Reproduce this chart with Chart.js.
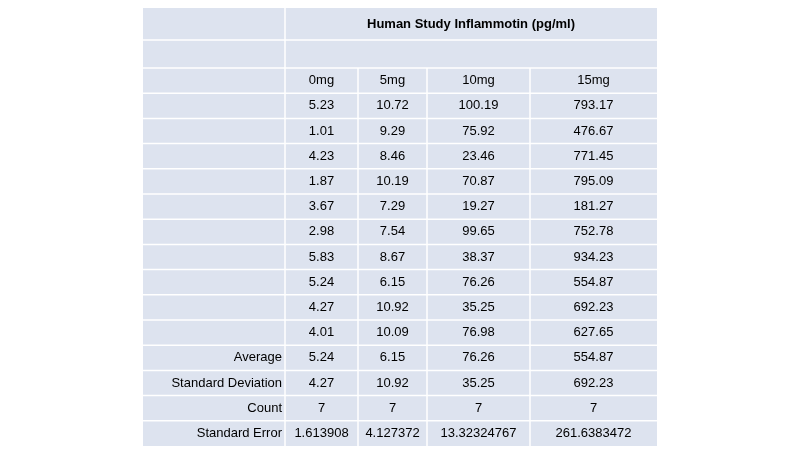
<!DOCTYPE html>
<html>
<head>
<meta charset="utf-8">
<script src="https://cdn.jsdelivr.net/npm/chart.js@4"></script>
<style>
  html, body { margin: 0; background: #fff; }
  #wrap { width: 800px; height: 450px; }
</style>
</head>
<body>
<div id="wrap"><canvas id="tableChart"></canvas></div>
<script>
const title = 'Human Study Inflammotin (pg/ml)';
const doses = ['0mg', '5mg', '10mg', '15mg'];
const dose0 = ['5.23', '1.01', '4.23', '1.87', '3.67', '2.98', '5.83', '5.24', '4.27', '4.01'];
const dose5 = ['10.72', '9.29', '8.46', '10.19', '7.29', '7.54', '8.67', '6.15', '10.92', '10.09'];
const dose10 = ['100.19', '75.92', '23.46', '70.87', '19.27', '99.65', '38.37', '76.26', '35.25', '76.98'];
const dose15 = ['793.17', '476.67', '771.45', '795.09', '181.27', '752.78', '934.23', '554.87', '692.23', '627.65'];
const statLabels = ['Average', 'Standard Deviation', 'Count', 'Standard Error'];
const stat0 = ['5.24', '4.27', '7', '1.613908'];
const stat5 = ['6.15', '10.92', '7', '4.127372'];
const stat10 = ['76.26', '35.25', '7', '13.32324767'];
const stat15 = ['554.87', '692.23', '7', '261.6383472'];

// layout of the grid (pixel-space of the page)
const colEdges = [143, 285, 358, 427, 530, 657];
const rowEdges = [8, 40, 68];
for (let i = 1; i <= 15; i++) rowEdges.push(68 + i * 25.2);

const rows = [];
rows.push({ cells: [null, title], title: true });
rows.push({ cells: [] });
rows.push({ cells: [''].concat(doses) });
dose0.forEach((v, i) => rows.push({ cells: ['', v, dose5[i], dose10[i], dose15[i]] }));
statLabels.forEach((l, i) => rows.push({ cells: [l, stat0[i], stat5[i], stat10[i], stat15[i]] }));

const tablePlugin = {
  id: 'tablePlugin',
  beforeDatasetsDraw(chart) {
    const { ctx, scales: { x, y } } = chart;
    const px = v => x.getPixelForValue(v);
    const py = v => y.getPixelForValue(v);
    ctx.save();
    ctx.fillStyle = '#dde3ef';
    ctx.fillRect(px(colEdges[0]), py(rowEdges[0]), px(colEdges[5]) - px(colEdges[0]), py(rowEdges[rowEdges.length - 1]) - py(rowEdges[0]));
    ctx.strokeStyle = '#ffffff';
    ctx.lineWidth = 1.5;
    ctx.beginPath();
    for (let r = 1; r < rowEdges.length - 1; r++) {
      ctx.moveTo(px(colEdges[0]), py(rowEdges[r]));
      ctx.lineTo(px(colEdges[5]), py(rowEdges[r]));
    }
    for (let c = 1; c < colEdges.length - 1; c++) {
      ctx.moveTo(px(colEdges[c]), py(c === 1 ? rowEdges[0] : rowEdges[2]));
      ctx.lineTo(px(colEdges[c]), py(rowEdges[rowEdges.length - 1]));
    }
    ctx.stroke();

    ctx.fillStyle = '#000';
    ctx.textBaseline = 'middle';
    rows.forEach((row, r) => {
      const cy = py((rowEdges[r] + rowEdges[r + 1]) / 2);
      if (row.title) {
        ctx.font = 'bold 13px "Liberation Sans", Arial, sans-serif';
        ctx.textAlign = 'center';
        ctx.fillText(row.cells[1], px((colEdges[1] + colEdges[5]) / 2), cy);
        return;
      }
      ctx.font = '13px "Liberation Sans", Arial, sans-serif';
      row.cells.forEach((t, c) => {
        if (!t) return;
        if (c === 0) {
          ctx.textAlign = 'right';
          ctx.fillText(t, px(colEdges[1]) - 3, cy);
        } else {
          ctx.textAlign = 'center';
          ctx.fillText(t, px((colEdges[c] + colEdges[c + 1]) / 2), cy);
        }
      });
    });
    ctx.restore();
  }
};

new Chart(document.getElementById('tableChart'), {
  type: 'scatter',
  data: { datasets: [{ data: [] }] },
  options: {
    responsive: true,
    maintainAspectRatio: false,
    animation: false,
    layout: { padding: 0 },
    plugins: { legend: { display: false }, tooltip: { enabled: false } },
    scales: {
      x: { type: 'linear', min: 0, max: 800, display: false },
      y: { type: 'linear', min: 0, max: 450, reverse: true, display: false }
    }
  },
  plugins: [tablePlugin]
});
</script>
</body>
</html>
